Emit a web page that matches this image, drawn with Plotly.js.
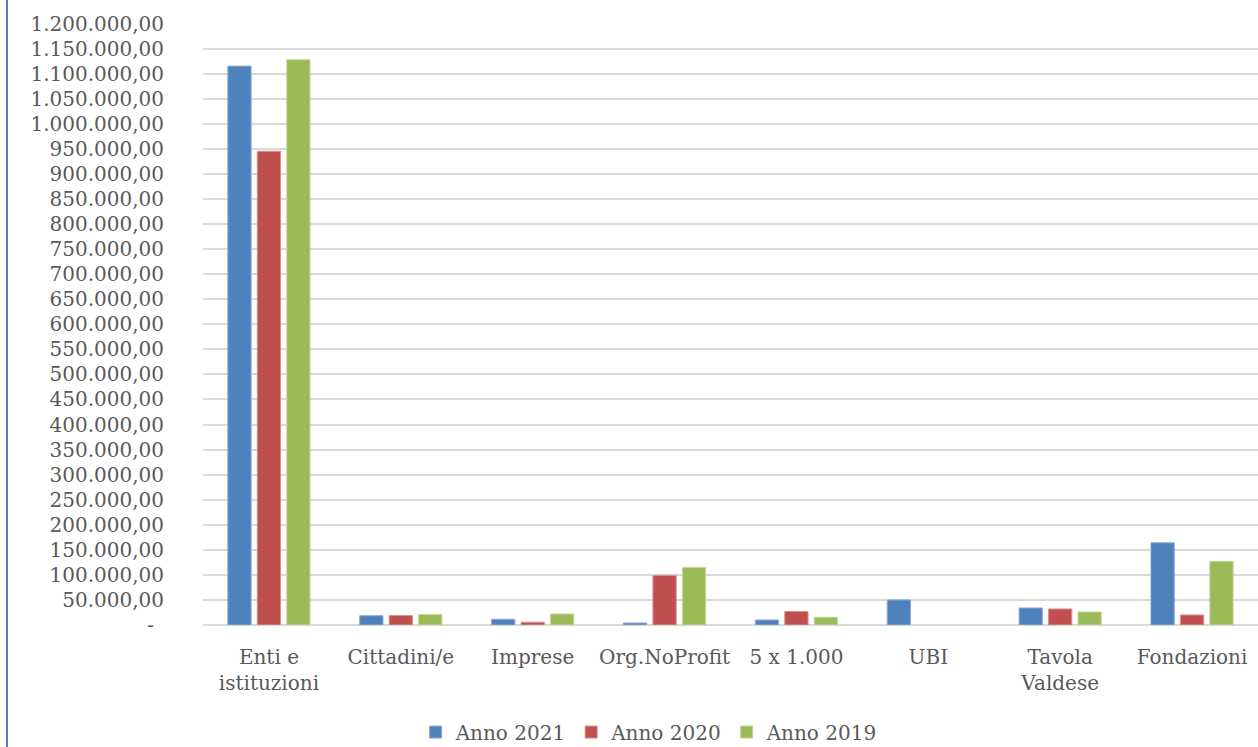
<!DOCTYPE html>
<html>
<head>
<meta charset="utf-8">
<script src="https://cdn.plot.ly/plotly-3.0.1.min.js"></script>
<style>
  html, body { margin: 0; padding: 0; background: #ffffff; }
  #wrap { position: relative; width: 1258px; height: 747px; overflow: hidden; }
  #chart { width: 1258px; height: 747px; }
  #edge { position: absolute; left: 6px; top: 0; width: 2px; height: 747px; background: #4F81BD; }
</style>
</head>
<body>
<div id="wrap">
  <div id="chart"></div>
  <div id="edge"></div>
</div>
<script>
// ---- data ----
const categories = ["Enti e<br>istituzioni", "Cittadini/e", "Imprese", "Org.NoProfit", "5 x 1.000", "UBI", "Tavola<br>Valdese", "Fondazioni"];
const seriesNames = ["Anno 2021", "Anno 2020", "Anno 2019"];
const anno2021 = [1115000, 18500, 11500, 4000, 10000, 50000, 34000, 164000];
const anno2020 = [945000, 19000, 5500, 99000, 27000, 0, 32000, 20000];
const anno2019 = [1127500, 21000, 22000, 115000, 15500, 0, 26000, 127000];
const seriesColors = ["#4F81BD", "#C0504D", "#9BBB59"];
const edgeColors = ["#8AAAD6", "#D8908E", "#C3D89A"];

const yTickVals = [0, 50000, 100000, 150000, 200000, 250000, 300000, 350000, 400000, 450000,
  500000, 550000, 600000, 650000, 700000, 750000, 800000, 850000, 900000, 950000,
  1000000, 1050000, 1100000, 1150000, 1200000];
const yTickText = ["-\u2002", "50.000,00", "100.000,00", "150.000,00", "200.000,00", "250.000,00",
  "300.000,00", "350.000,00", "400.000,00", "450.000,00", "500.000,00", "550.000,00",
  "600.000,00", "650.000,00", "700.000,00", "750.000,00", "800.000,00", "850.000,00",
  "900.000,00", "950.000,00", "1.000.000,00", "1.050.000,00", "1.100.000,00",
  "1.150.000,00", "1.200.000,00"];

const allSeries = [anno2021, anno2020, anno2019];
const traces = allSeries.map((vals, i) => ({
  type: "bar",
  name: seriesNames[i],
  x: categories,
  y: vals,
  marker: {
    color: seriesColors[i],
    line: { color: edgeColors[i], width: vals.map(v => (v > 0 ? 1 : 0)) }
  },
  hoverinfo: "skip"
}));

const fontFamily = "'DejaVu Serif', 'Liberation Serif', serif";
const textColor = "#595959";

const layout = {
  width: 1258,
  height: 747,
  paper_bgcolor: "#ffffff",
  plot_bgcolor: "#ffffff",
  margin: { l: 203, r: 0, t: 23, b: 122, pad: 0 },
  font: { family: fontFamily, size: 20, color: textColor },
  barmode: "group",
  bargap: 0.33,
  bargroupgap: 0.21,
  showlegend: true,
  legend: {
    orientation: "h",
    xref: "container",
    yref: "container",
    x: 0.516,
    xanchor: "center",
    y: 0.02,
    yanchor: "middle",
    font: { family: fontFamily, size: 20, color: textColor },
    bgcolor: "rgba(0,0,0,0)"
  },
  xaxis: {
    type: "category",
    showgrid: false,
    showline: false,
    zeroline: false,
    ticks: "",
    ticklabelstandoff: 18,
    tickfont: { family: fontFamily, size: 20, color: textColor },
    fixedrange: true
  },
  yaxis: {
    range: [0, 1201000],
    tickmode: "array",
    tickvals: yTickVals,
    ticktext: yTickText,
    showgrid: true,
    gridcolor: "#D9D9D9",
    gridwidth: 2,
    zeroline: true,
    zerolinecolor: "#D9D9D9",
    zerolinewidth: 2,
    showline: false,
    ticks: "",
    ticklabelstandoff: 38,
    tickfont: { family: fontFamily, size: 20, color: textColor },
    fixedrange: true
  }
};

Plotly.newPlot("chart", traces, layout, { staticPlot: true, displayModeBar: false });
</script>
</body>
</html>
